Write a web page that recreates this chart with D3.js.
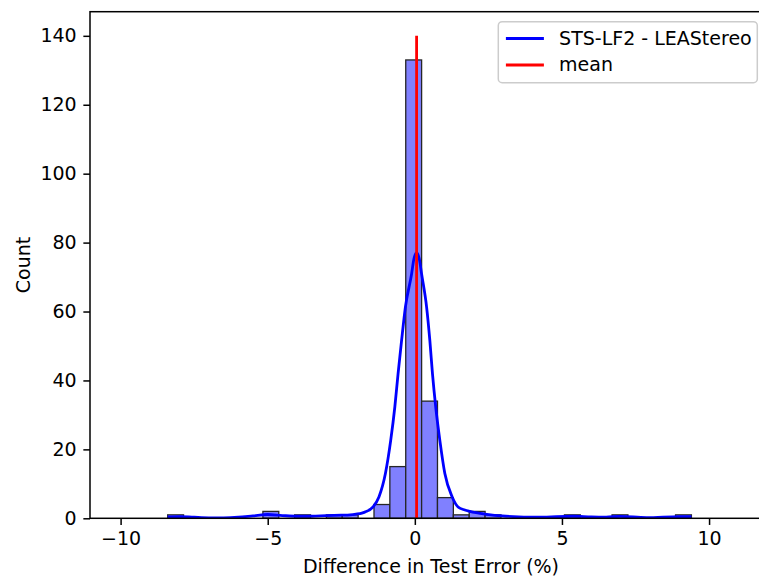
<!DOCTYPE html>
<html>
<head>
<meta charset="utf-8">
<script src="https://cdn.jsdelivr.net/npm/d3@7"></script>
<style>
  html, body { margin: 0; padding: 0; background: #fff; }
  svg { display: block; }
  text { font-family: "DejaVu Sans", sans-serif; }
</style>
</head>
<body>
<svg id="chart" width="759" height="578"></svg>
<script>
// ---------------- data ----------------
const binLo = -8.40;           // left edge of first bin
const binHi = 9.40;            // right edge of last bin
const counts = [1, 0, 0, 0, 0, 0, 2, 0, 1, 0, 1, 1, 0, 4, 15, 133, 34, 6, 1, 2, 1, 0, 0, 0, 0, 1, 0, 0, 1, 0, 0, 0, 1];

// KDE curve
const kdeX = [-8.4, -8.0, -7.5, -7.0, -6.5, -6.0, -5.5, -5.0, -4.5, -4.0, -3.5, -3.0, -2.5, -2.2, -2.0, -1.8, -1.7, -1.42, -1.22, -1.0, -0.82, -0.68, -0.57, -0.45, -0.32, -0.11, -0.03, 0.06, 0.15, 0.23, 0.40, 0.51, 0.60, 0.71, 0.85, 1.02, 1.27, 1.47, 1.70, 1.87, 2.38, 3.1, 4.25, 5.37, 6.0, 6.5, 6.97, 7.87, 9.0, 9.4];
const kdeY = [0.4, 0.5, 0.3, 0.15, 0.15, 0.3, 0.7, 1.1, 0.8, 0.6, 0.6, 0.8, 0.9, 1.0, 1.2, 1.5, 1.8, 3.3, 6.2, 13.0, 22.6, 32.3, 41.9, 51.6, 61.3, 70.9, 75.3, 77.0, 75.3, 70.9, 61.3, 51.6, 41.9, 32.3, 22.6, 13.0, 6.2, 3.3, 2.4, 2.0, 1.2, 0.6, 0.3, 0.6, 0.4, 0.35, 0.55, 0.2, 0.5, 0.45];

const meanValue = 0.06;
const meanTop = 140;

const xTicks = [-10, -5, 0, 5, 10];
const yTicks = [0, 20, 40, 60, 80, 100, 120, 140];
const xDomain = [-11.04, 12.02];
const yDomain = [0, 147];

const seriesLabel = "STS-LF2 - LEAStereo";
const meanLabel = "mean";
const xLabel = "Difference in Test Error (%)";
const yLabel = "Count";

// ---------------- layout ----------------
const FS = 19;
const L = 90, R = 768.5, T = 11.7, B = 518.3;

const svg = d3.select("#chart");
const x = d3.scaleLinear().domain(xDomain).range([L, R]);
const y = d3.scaleLinear().domain(yDomain).range([B, T]);

svg.append("defs").append("clipPath").attr("id", "plotclip")
  .append("rect").attr("x", L).attr("y", T).attr("width", R - L).attr("height", B - T);

const plot = svg.append("g").attr("clip-path", "url(#plotclip)");

// histogram bars
const nb = counts.length;
const bw = (binHi - binLo) / nb;
const bins = counts.map((c, i) => ({ x0: binLo + i * bw, x1: binLo + (i + 1) * bw, c }))
  .filter(d => d.c > 0);

plot.selectAll("rect.bar").data(bins).enter().append("rect")
  .attr("class", "bar")
  .attr("x", d => x(d.x0))
  .attr("width", d => x(d.x1) - x(d.x0))
  .attr("y", d => y(d.c))
  .attr("height", d => y(0) - y(d.c))
  .attr("fill", "#8080ff")
  .attr("stroke", "#262626")
  .attr("stroke-width", 1.3);

// KDE line
const kde = kdeX.map((v, i) => [v, kdeY[i]]);
plot.append("path")
  .datum(kde)
  .attr("fill", "none")
  .attr("stroke", "#0000ff")
  .attr("stroke-width", 2.8)
  .attr("stroke-linejoin", "round")
  .attr("d", d3.line().x(d => x(d[0])).y(d => y(d[1])).curve(d3.curveMonotoneX));

// mean line
plot.append("line")
  .attr("x1", x(meanValue)).attr("x2", x(meanValue))
  .attr("y1", y(0)).attr("y2", y(meanTop))
  .attr("stroke", "#ff0000")
  .attr("stroke-width", 2.8);

// axes
const xAxis = svg.append("g").attr("transform", `translate(0,${B})`)
  .call(d3.axisBottom(x).tickValues(xTicks).tickSize(6.65).tickPadding(6.65).tickFormat(d3.format("d")));
const yAxis = svg.append("g").attr("transform", `translate(${L},0)`)
  .call(d3.axisLeft(y).tickValues(yTicks).tickSize(6.65).tickPadding(6.65));

[xAxis, yAxis].forEach(g => {
  g.select(".domain").remove();
  g.selectAll(".tick line").attr("stroke", "#000").attr("stroke-width", 1.5);
  g.selectAll(".tick text").attr("fill", "#000")
    .style("font-size", FS + "px").style("font-family", "'DejaVu Sans', sans-serif");
});

// frame
svg.append("rect")
  .attr("x", L).attr("y", T).attr("width", R - L).attr("height", B - T)
  .attr("fill", "none").attr("stroke", "#000").attr("stroke-width", 1.5);

// axis labels
svg.append("text")
  .attr("x", 431).attr("y", 572.5)
  .attr("text-anchor", "middle")
  .style("font-size", FS + "px")
  .text(xLabel);

svg.append("text")
  .attr("transform", `translate(30,${(T + B) / 2}) rotate(-90)`)
  .attr("text-anchor", "middle")
  .style("font-size", FS + "px")
  .text(yLabel);

// legend
const lg = svg.append("g");
lg.append("rect")
  .attr("x", 498.3).attr("y", 21.7).attr("width", 259).attr("height", 61)
  .attr("rx", 3.8).attr("ry", 3.8)
  .attr("fill", "#fff").attr("fill-opacity", 0.8)
  .attr("stroke", "#cccccc").attr("stroke-width", 1.5);

const legItems = [
  { label: seriesLabel, color: "#0000ff" },
  { label: meanLabel, color: "#ff0000" }
];
legItems.forEach((d, i) => {
  const yy = 38.5 + i * 26.5;
  lg.append("line")
    .attr("x1", 505.9).attr("x2", 543.9)
    .attr("y1", yy).attr("y2", yy)
    .attr("stroke", d.color).attr("stroke-width", 2.8);
  lg.append("text")
    .attr("x", 559.1).attr("y", yy + 6)
    .style("font-size", FS + "px")
    .text(d.label);
});
</script>
</body>
</html>
